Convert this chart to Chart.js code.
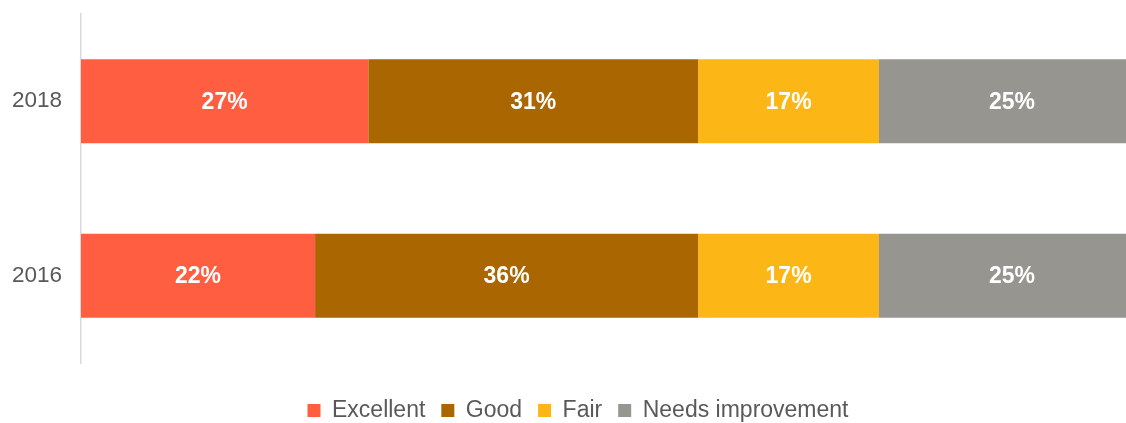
<!DOCTYPE html>
<html>
<head>
<meta charset="utf-8">
<script src="https://cdn.jsdelivr.net/npm/chart.js@4"></script>
<style>
  html, body { margin: 0; padding: 0; background: #fff; overflow: hidden; }
  #wrap { width: 1126px; height: 423px; overflow: hidden; }
</style>
</head>
<body>
<div id="wrap"><canvas id="c" width="1174" height="432"></canvas></div>
<script>
  // values (percent)
  const years = ['2018', '2016'];
  const excellent = [27, 22];
  const good = [31, 36];
  const fair = [17, 17];
  const needsImprovement = [25, 25];

  const seriesNames = ['Excellent', 'Good', 'Fair', 'Needs improvement'];
  const seriesColors = ['#FF5F40', '#AA6600', '#FCB716', '#979590'];
  const seriesData = [excellent, good, fair, needsImprovement];

  const FONT = "'Liberation Sans', Arial, sans-serif";

  // white % labels in the middle of each segment
  const segLabels = {
    id: 'segLabels',
    afterDatasetsDraw(chart) {
      const ctx = chart.ctx;
      ctx.save();
      ctx.font = 'bold 23px ' + FONT;
      ctx.fillStyle = '#ffffff';
      ctx.textAlign = 'center';
      ctx.textBaseline = 'middle';
      chart.data.datasets.forEach((ds, i) => {
        chart.getDatasetMeta(i).data.forEach((bar, j) => {
          const p = bar.getProps(['x', 'y', 'base'], true);
          ctx.fillText(ds.data[j] + '%', (p.x + p.base) / 2, p.y + 1);
        });
      });
      ctx.restore();
    }
  };

  new Chart(document.getElementById('c'), {
    type: 'bar',
    data: {
      labels: years,
      datasets: seriesNames.map((name, i) => ({
        label: name,
        data: seriesData[i],
        backgroundColor: seriesColors[i],
        borderWidth: 0,
        categoryPercentage: 1,
        barPercentage: 0.48
      }))
    },
    options: {
      indexAxis: 'y',
      responsive: false,
      animation: false,
      devicePixelRatio: 1,
      layout: { padding: { left: 11, right: 29, top: 14, bottom: 0 } },
      scales: {
        x: {
          stacked: true,
          min: 0,
          max: 100,
          display: true,
          grid: { display: false, drawTicks: false },
          border: { display: false },
          ticks: { display: false },
          afterFit(scale) { scale.height = 20; }
        },
        y: {
          stacked: true,
          grid: { display: false, drawTicks: false },
          border: { display: true, color: '#d9d9d9', width: 1.5 },
          ticks: {
            color: '#595959',
            padding: 19,
            font: { family: FONT, size: 22.5 }
          },
          afterFit(scale) {
            scale.width = 70;
            scale.paddingTop = 0;
            scale.paddingBottom = 0;
          }
        }
      },
      plugins: {
        tooltip: { enabled: false },
        legend: {
          position: 'bottom',
          labels: {
            boxWidth: 13,
            boxHeight: 13,
            padding: 16,
            color: '#595959',
            font: { family: FONT, size: 23 }
          }
        }
      }
    },
    plugins: [segLabels]
  });
</script>
</body>
</html>
